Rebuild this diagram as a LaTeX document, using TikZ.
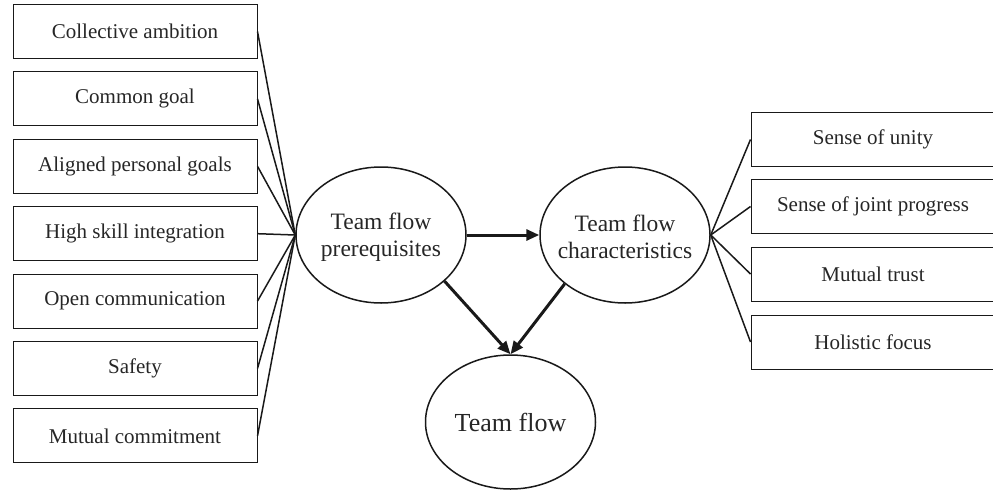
\documentclass[tikz,border=0pt]{standalone}
\usepackage{fontspec}
\setmainfont{Liberation Serif}
\usetikzlibrary{shapes.geometric,arrows.meta}
\begin{document}
\begin{tikzpicture}[x=1pt,y=-1pt,
  box/.style={draw=black!90, line width=1pt, minimum width=244pt, minimum height=54pt, inner sep=0pt, font=\fontsize{21}{25}\selectfont, text=black!85},
  oval/.style={draw=black!90, ellipse, line width=1.5pt, minimum width=170pt, minimum height=136pt, inner sep=0pt},
  otext/.style={align=center, text=black!85, font=\fontsize{23.5}{27}\selectfont},
  link/.style={line width=1.5pt, draw=black!90},
  bigarrow/.style={line width=3pt, draw=black!90, -{Triangle[length=13pt,width=11pt]}}]
\useasboundingbox (0,0) rectangle (993,490);
\clip (0,0) rectangle (993,490);
% left boxes
\node[box] (b1) at (135,31.5) {Collective ambition};
\node[box] (b2) at (135,98.9) {Common goal};
\node[box] (b3) at (135,166.3) {Aligned personal goals};
\node[box] (b4) at (135,233.7) {High skill integration};
\node[box] (b5) at (135,301.1) {Open communication};
\node[box] (b6) at (135,368.5) {Safety};
\node[box] (b7) at (135,435.9) {Mutual commitment};
% right boxes
\node[box] (r1) at (873,139.5) {Sense of unity};
\node[box] (r2) at (873,206.5) {Sense of joint progress};
\node[box] (r3) at (873,274) {Mutual trust};
\node[box] (r4) at (873,342) {Holistic focus};
% ellipses
\node[oval] (e1) at (381,235) {};
\node[otext] (e1t) at (381,237) {Team flow\\prerequisites};
\node[oval] (e2) at (625,235) {};
\node[otext] (e2t) at (625,237) {Team flow\\characteristics};
\node[oval, minimum height=134pt] (e3) at (510.5,422) {};
\node[otext, font=\fontsize{26}{30}\selectfont] (e3t) at (510.5,422) {Team flow};
% connectors
\foreach \b in {b1,b2,b3,b4,b5,b6,b7} \draw[link] (\b.east) -- (e1.west);
\foreach \r in {r1,r2,r3,r4} \draw[link] (e2.east) -- (\r.west);
\draw[bigarrow] (e1.east) -- (e2.west);
\draw[bigarrow] (e1.-36) -- (e3.north);
\draw[bigarrow] (e2.-141) -- (e3.north);
\end{tikzpicture}
\end{document}
